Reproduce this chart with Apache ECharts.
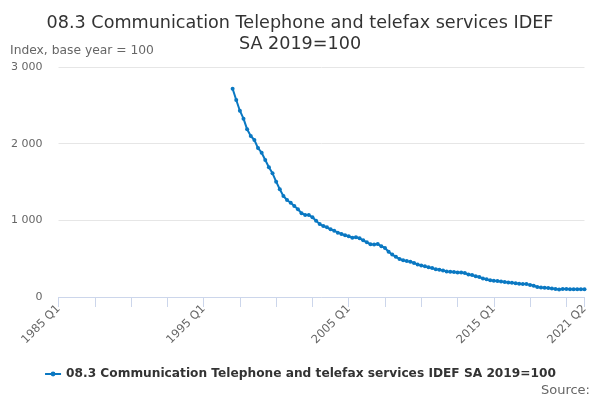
<!DOCTYPE html>
<html>
<head>
<meta charset="utf-8">
<script src="https://cdn.jsdelivr.net/npm/echarts@6/dist/echarts.min.js"></script>
<style>
html,body{margin:0;padding:0;background:#fff;}
#chart{width:600px;height:400px;}
</style>
</head>
<body>
<div id="chart"></div>
<script>
// Quarter range of the category axis
var firstYear = 1985;
var lastYear = 2021;
var lastQuarter = 2;
// First quarter that has data
var dataStartLabel = "1997 Q1";
// Series values (Index, 2019=100), 1997 Q1 .. 2021 Q2
var seriesValues = [
  2717, 2570, 2430, 2326, 2187, 2100, 2048, 1943, 1882, 1787, 1692, 1613,
  1504, 1405, 1317, 1265, 1230, 1187, 1144, 1092, 1070, 1070, 1040, 995,
  952, 926, 909, 883, 865, 839, 822, 805, 792, 773, 780, 766,
  740, 713, 689, 686, 691, 663, 639, 590, 553, 524, 497, 479,
  468, 460, 445, 424, 411, 400, 389, 377, 363, 355, 346, 334,
  330, 326, 318, 320, 313, 293, 286, 271, 261, 241, 230, 219,
  213, 209, 202, 197, 190, 185, 179, 173, 170, 168, 158, 146,
  130, 123, 121, 117, 110, 105, 98, 104, 103, 102, 102, 102,
  102, 102
];
var seriesName = "08.3 Communication Telephone and telefax services IDEF SA 2019=100";
var yTicks = [0, 1000, 2000, 3000];

var categories = [];
for (var y = firstYear; y <= lastYear; y++) {
  for (var q = 1; q <= 4; q++) {
    if (y === lastYear && q > lastQuarter) break;
    categories.push(y + " Q" + q);
  }
}
var startIdx = categories.indexOf(dataStartLabel);
var fullData = categories.map(function (c, i) {
  var k = i - startIdx;
  return (k >= 0 && k < seriesValues.length) ? seriesValues[k] : null;
});
var lastIdx = categories.length - 1;

var font = "DejaVu Sans";
var chart = echarts.init(document.getElementById('chart'), null, {renderer: 'canvas'});
chart.setOption({
  animation: false,
  backgroundColor: '#ffffff',
  title: {
    text: "08.3 Communication Telephone and telefax services IDEF\nSA 2019=100",
    left: 'center',
    top: 8,
    textStyle: {fontFamily: font, fontSize: 17.6, fontWeight: 'normal', color: '#333333', lineHeight: 21}
  },
  graphic: [
    {type: 'text', left: 10, top: 45, style: {text: 'Index, base year = 100', font: '12.3px "DejaVu Sans"', fill: '#666666'}},
    {type: 'text', right: 10, top: 384, style: {text: 'Source:', font: '13px "DejaVu Sans"', fill: '#666666'}}
  ],
  legend: {
    bottom: 15,
    left: 'center',
    itemWidth: 16,
    itemHeight: 6,
    itemGap: 10,
    textStyle: {fontFamily: font, fontSize: 12.2, fontWeight: 'bold', color: '#333333'},
    data: [seriesName]
  },
  grid: {left: 58.5, right: 15.5, top: 67, bottom: 103, containLabel: false},
  xAxis: {
    type: 'category',
    data: categories,
    boundaryGap: false,
    axisLine: {lineStyle: {color: '#ccd6eb', width: 1}},
    axisTick: {
      length: 10,
      lineStyle: {color: '#ccd6eb'},
      interval: function (i) { return i % 10 === 0 || i === lastIdx; }
    },
    axisLabel: {
      rotate: 45,
      margin: 10,
      fontFamily: font,
      fontSize: 11.5,
      color: '#666666',
      interval: function (i) { return i % 40 === 0 || i === lastIdx; }
    },
    splitLine: {show: false}
  },
  yAxis: {
    type: 'value',
    min: yTicks[0],
    max: yTicks[yTicks.length - 1],
    interval: 1000,
    axisLine: {show: false},
    axisTick: {show: false},
    splitLine: {lineStyle: {color: '#e6e6e6', width: 1}},
    axisLabel: {
      margin: 16,
      fontFamily: font,
      fontSize: 11,
      color: '#666666',
      formatter: function (v) { return String(v).replace(/\B(?=(\d{3})+(?!\d))/g, ' '); }
    }
  },
  series: [{
    name: seriesName,
    type: 'line',
    data: fullData,
    connectNulls: false,
    symbol: 'circle',
    symbolSize: 4,
    showSymbol: true,
    showAllSymbol: true,
    lineStyle: {width: 2, color: '#0a78c2'},
    itemStyle: {color: '#0a78c2'}
  }]
});
</script>
</body>
</html>
